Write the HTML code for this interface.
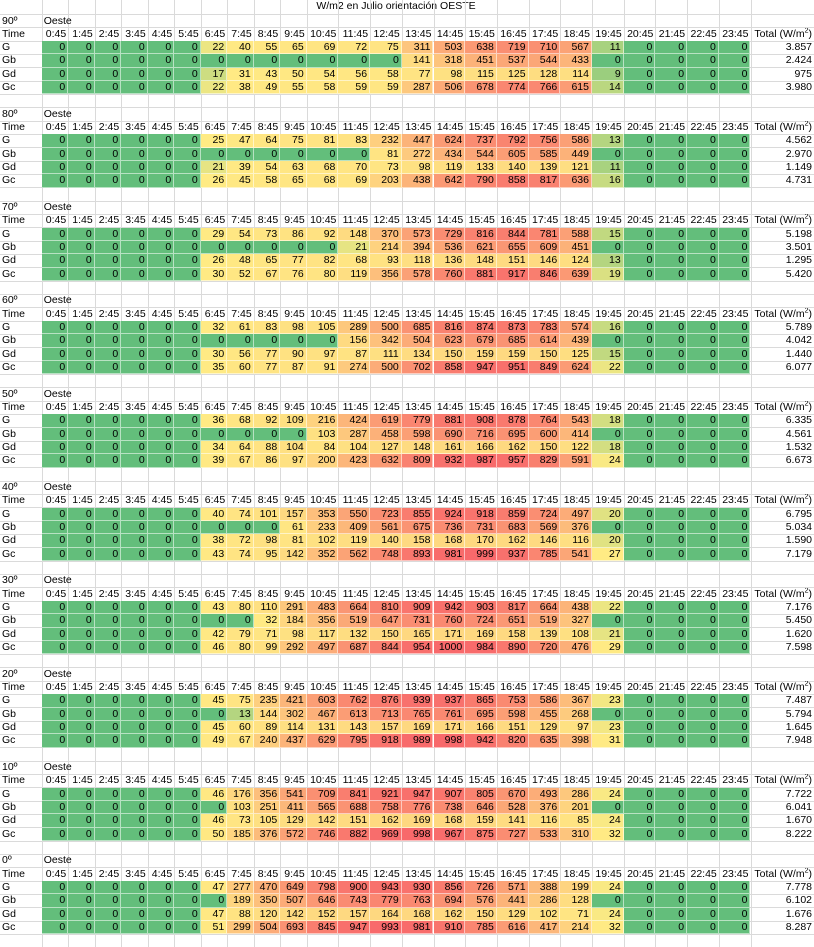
<!DOCTYPE html>
<html><head><meta charset="utf-8">
<style>
html,body{margin:0;padding:0;background:#fff;}
#sheet{position:relative;width:814px;height:947px;overflow:hidden;font-family:"Liberation Sans",sans-serif;font-size:10.5px;color:#000;}
.c{position:absolute;box-sizing:border-box;line-height:13px;white-space:nowrap;overflow:hidden;}
.r{text-align:right;padding-right:2px;}
.l{text-align:left;padding-left:2px;}
.vl{position:absolute;top:0;width:1px;height:947px;background:#dadada;}
.hl{position:absolute;left:0;width:814px;height:1px;background:#dadada;}
sup{font-size:7px;line-height:0;}
</style></head>
<body>
<div id="sheet">
<div class="c" style="left:41px;top:0;width:710px;height:14px;text-align:center;">W/m2 en Julio orientación OESTE</div>
</div>
<script>
const times = ["0:45","1:45","2:45","3:45","4:45","5:45","6:45","7:45","8:45","9:45","10:45","11:45","12:45","13:45","14:45","15:45","16:45","17:45","18:45","19:45","20:45","21:45","22:45","23:45"];
const angles = ["90º","80º","70º","60º","50º","40º","30º","20º","10º","0º"];
const seriesNames = ["G","Gb","Gd","Gc"];
// values for 6:45 .. 19:45 (all other hours are 0)
const vG = [
[22,40,55,65,69,72,75,311,503,638,719,710,567,11],
[25,47,64,75,81,83,232,447,624,737,792,756,586,13],
[29,54,73,86,92,148,370,573,729,816,844,781,588,15],
[32,61,83,98,105,289,500,685,816,874,873,783,574,16],
[36,68,92,109,216,424,619,779,881,908,878,764,543,18],
[40,74,101,157,353,550,723,855,924,918,859,724,497,20],
[43,80,110,291,483,664,810,909,942,903,817,664,438,22],
[45,75,235,421,603,762,876,939,937,865,753,586,367,23],
[46,176,356,541,709,841,921,947,907,805,670,493,286,24],
[47,277,470,649,798,900,943,930,856,726,571,388,199,24]];
const vGb = [
[0,0,0,0,0,0,0,141,318,451,537,544,433,0],
[0,0,0,0,0,0,81,272,434,544,605,585,449,0],
[0,0,0,0,0,21,214,394,536,621,655,609,451,0],
[0,0,0,0,0,156,342,504,623,679,685,614,439,0],
[0,0,0,0,103,287,458,598,690,716,695,600,414,0],
[0,0,0,61,233,409,561,675,736,731,683,569,376,0],
[0,0,32,184,356,519,647,731,760,724,651,519,327,0],
[0,13,144,302,467,613,713,765,761,695,598,455,268,0],
[0,103,251,411,565,688,758,776,738,646,528,376,201,0],
[0,189,350,507,646,743,779,763,694,576,441,286,128,0]];
const vGd = [
[17,31,43,50,54,56,58,77,98,115,125,128,114,9],
[21,39,54,63,68,70,73,98,119,133,140,139,121,11],
[26,48,65,77,82,68,93,118,136,148,151,146,124,13],
[30,56,77,90,97,87,111,134,150,159,159,150,125,15],
[34,64,88,104,84,104,127,148,161,166,162,150,122,18],
[38,72,98,81,102,119,140,158,168,170,162,146,116,20],
[42,79,71,98,117,132,150,165,171,169,158,139,108,21],
[45,60,89,114,131,143,157,169,171,166,151,129,97,23],
[46,73,105,129,142,151,162,169,168,159,141,116,85,24],
[47,88,120,142,152,157,164,168,162,150,129,102,71,24]];
const vGc = [
[22,38,49,55,58,59,59,287,506,678,774,766,615,14],
[26,45,58,65,68,69,203,438,642,790,858,817,636,16],
[30,52,67,76,80,119,356,578,760,881,917,846,639,19],
[35,60,77,87,91,274,500,702,858,947,951,849,624,22],
[39,67,86,97,200,423,632,809,932,987,957,829,591,24],
[43,74,95,142,352,562,748,893,981,999,937,785,541,27],
[46,80,99,292,497,687,844,954,1000,984,890,720,476,29],
[49,67,240,437,629,795,918,989,998,942,820,635,398,31],
[50,185,376,572,746,882,969,998,967,875,727,533,310,32],
[51,299,504,693,845,947,993,981,910,785,616,417,214,32]];
const totals = [
["3.857","2.424","975","3.980"],
["4.562","2.970","1.149","4.731"],
["5.198","3.501","1.295","5.420"],
["5.789","4.042","1.440","6.077"],
["6.335","4.561","1.532","6.673"],
["6.795","5.034","1.590","7.179"],
["7.176","5.450","1.620","7.598"],
["7.487","5.794","1.645","7.948"],
["7.722","6.041","1.670","8.222"],
["7.778","6.102","1.676","8.287"]];

const sheet = document.getElementById('sheet');
const ROW_H = 13.333, TOP = 14, LABEL_W = 41.7;
function colX(i){ return i < 10 ? LABEL_W + i*26.5 : LABEL_W + 265 + (i-10)*31.7; }
function colW(i){ return i < 10 ? 26.5 : 31.7; }
const TOTAL_X = colX(24);
function rowY(b, r){ return TOP + (b*7 + r)*ROW_H; }
const cG=[99,190,123], cY=[255,235,132], cR=[248,105,107];
const MID=25, MAX=1000;
function mix(a,b,t){ return 'rgb('+a.map((v,i)=>Math.round(v+(b[i]-v)*t)).join(',')+')'; }
function colour(v){ if(v<=MID) return mix(cG,cY,Math.max(0,v)/MID); return mix(cY,cR,Math.min(1,(v-MID)/(MAX-MID))); }

// gridlines
for(let i=0;i<=24;i++){
  const d=document.createElement('div'); d.className='vl'; d.style.left=colX(i)+'px';
  
  
  sheet.appendChild(d);
}
for(let k=0;k<=70;k++){
  const d=document.createElement('div'); d.className='hl'; d.style.top=(TOP+k*ROW_H)+'px';
  
  
  sheet.appendChild(d);
}
function cell(x,y,w,cls,html,bg){
  const d=document.createElement('div'); d.className='c '+cls;
  d.style.left=x+'px'; d.style.top=(y+0.5)+'px'; d.style.width=w+'px'; d.style.height=ROW_H+'px';
  if(bg){ d.style.background=bg; d.style.borderRight='1px solid rgba(255,255,255,0.55)'; d.style.borderBottom='1px solid rgba(255,255,255,0.55)'; }
  d.innerHTML=html; sheet.appendChild(d); return d;
}
const allSeries=[vG,vGb,vGd,vGc];
angles.forEach((ang,b)=>{
  let d=cell(0,rowY(b,0),LABEL_W,'l',ang);
  
  
  d=cell(LABEL_W,rowY(b,0),60,'l','Oeste');
  
  
  d=cell(0,rowY(b,1),LABEL_W,'l','Time');
  
  
  times.forEach((t,i)=>{
    const h=cell(colX(i),rowY(b,1),colW(i),'r',t);
    
    
  });
  d=cell(TOTAL_X,rowY(b,1),814-TOTAL_X,'r','Total (W/m<sup>2</sup>)');
  
  
  seriesNames.forEach((s,si)=>{
    const y=rowY(b,2+si);
    const lab=cell(0,y,LABEL_W,'l',s);
    
    
    const vals=allSeries[si][b];
    times.forEach((t,i)=>{
      const v=(i>=6 && i<=19) ? vals[i-6] : 0;
      const c=cell(colX(i),y,colW(i),'r',String(v),colour(v));
      
      
    });
    const tc=cell(TOTAL_X,y,814-TOTAL_X,'r',totals[b][si]);
    
    
  });
});
</script>
</body></html>
